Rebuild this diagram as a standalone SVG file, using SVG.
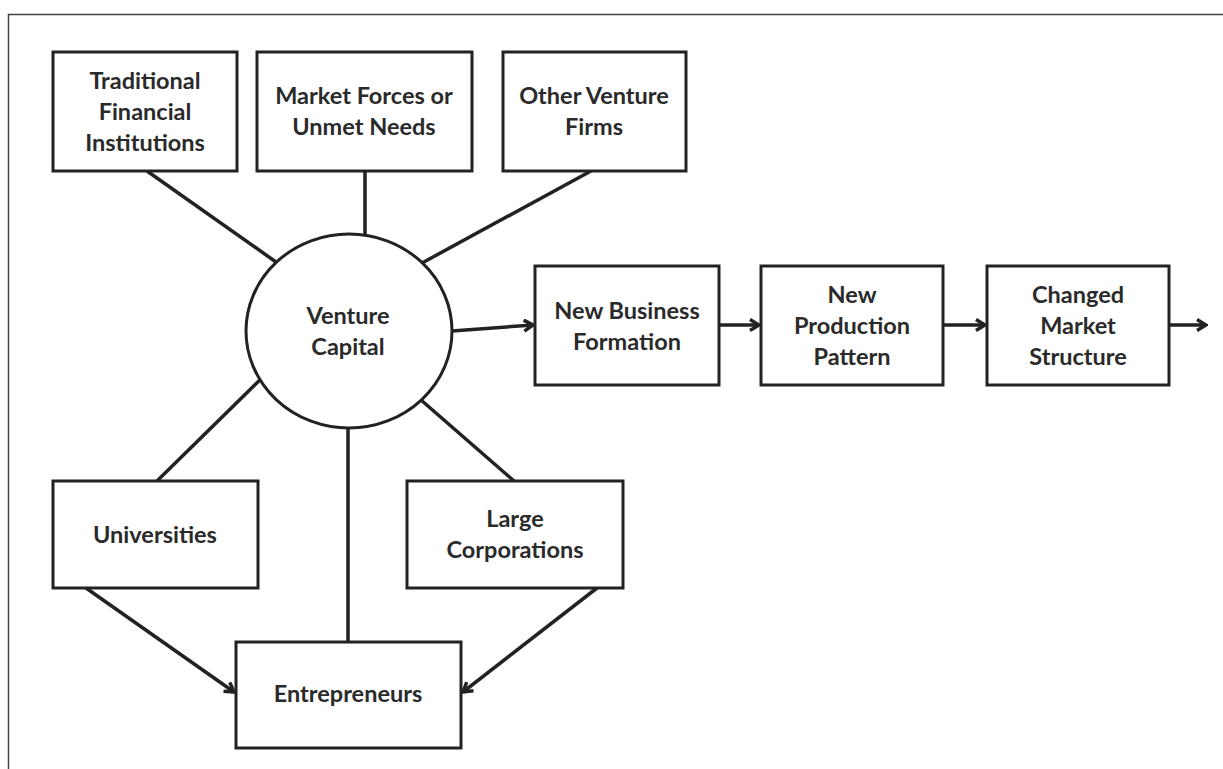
<svg xmlns="http://www.w3.org/2000/svg" width="1223" height="769" viewBox="0 0 1223 769">
<style>
.box{fill:#fff;stroke:#222;stroke-width:3}
.lbl{font-family:Lato,"Open Sans",sans-serif;font-weight:700;font-size:23.5px;fill:#2a2a2a;text-anchor:middle}
.con{stroke:#222;stroke-width:3.5;fill:none;stroke-linecap:butt}
</style>
<defs>
<marker id="arr" viewBox="0 0 14 14" refX="12" refY="7" markerWidth="14" markerHeight="14" markerUnits="userSpaceOnUse" orient="auto">
<path d="M3,1.5 L12,7 L3,12.5" fill="none" stroke="#222" stroke-width="3.5"/>
</marker>
</defs>
<rect width="1223" height="769" fill="#fff"/>
<path d="M8.5,769 V14.5 H1223" fill="none" stroke="#444" stroke-width="1.5"/>
<g id="connectors">
<line class="con" x1="147" y1="171" x2="276" y2="262"/>
<line class="con" x1="365" y1="171" x2="365" y2="235"/>
<line class="con" x1="591" y1="171" x2="422" y2="263"/>
<line class="con" x1="157" y1="481" x2="271" y2="369"/>
<line class="con" x1="421" y1="400" x2="514" y2="481"/>
<line class="con" x1="348" y1="428" x2="348" y2="642"/>
<line class="con" x1="452" y1="331" x2="533" y2="325" marker-end="url(#arr)"/>
<line class="con" x1="719" y1="325" x2="759" y2="325" marker-end="url(#arr)"/>
<line class="con" x1="943" y1="325" x2="985" y2="325" marker-end="url(#arr)"/>
<line class="con" x1="1169" y1="325" x2="1206" y2="325" marker-end="url(#arr)"/>
<line class="con" x1="86" y1="588" x2="234" y2="692" marker-end="url(#arr)"/>
<line class="con" x1="597" y1="588" x2="463" y2="692" marker-end="url(#arr)"/>
</g>
<g id="trad"><rect class="box" x="53" y="52" width="184" height="119"/>
<text class="lbl" x="145" y="89">Traditional</text><text class="lbl" x="145" y="120">Financial</text><text class="lbl" x="145" y="151">Institutions</text></g>
<g id="market"><rect class="box" x="257" y="52" width="215" height="119"/>
<text class="lbl" x="364" y="104">Market Forces or</text><text class="lbl" x="364" y="135">Unmet Needs</text></g>
<g id="other"><rect class="box" x="503" y="52" width="183" height="119"/>
<text class="lbl" x="594" y="104">Other Venture</text><text class="lbl" x="594" y="135">Firms</text></g>
<g id="vc"><ellipse cx="349" cy="331" rx="103" ry="97" fill="#fff" stroke="#222" stroke-width="3"/>
<text class="lbl" x="348" y="324">Venture</text><text class="lbl" x="348" y="355">Capital</text></g>
<g id="nbf"><rect class="box" x="535" y="266" width="184" height="119"/>
<text class="lbl" x="627" y="319">New Business</text><text class="lbl" x="627" y="350">Formation</text></g>
<g id="npp"><rect class="box" x="761" y="266" width="182" height="119"/>
<text class="lbl" x="852" y="303">New</text><text class="lbl" x="852" y="334">Production</text><text class="lbl" x="852" y="365">Pattern</text></g>
<g id="cms"><rect class="box" x="987" y="266" width="182" height="119"/>
<text class="lbl" x="1078" y="303">Changed</text><text class="lbl" x="1078" y="334">Market</text><text class="lbl" x="1078" y="365">Structure</text></g>
<g id="univ"><rect class="box" x="53" y="481" width="205" height="107"/>
<text class="lbl" x="155" y="543">Universities</text></g>
<g id="corp"><rect class="box" x="407" y="481" width="216" height="107"/>
<text class="lbl" x="515" y="527">Large</text><text class="lbl" x="515" y="558">Corporations</text></g>
<g id="entre"><rect class="box" x="236" y="642" width="225" height="106"/>
<text class="lbl" x="348" y="702">Entrepreneurs</text></g>
</svg>
